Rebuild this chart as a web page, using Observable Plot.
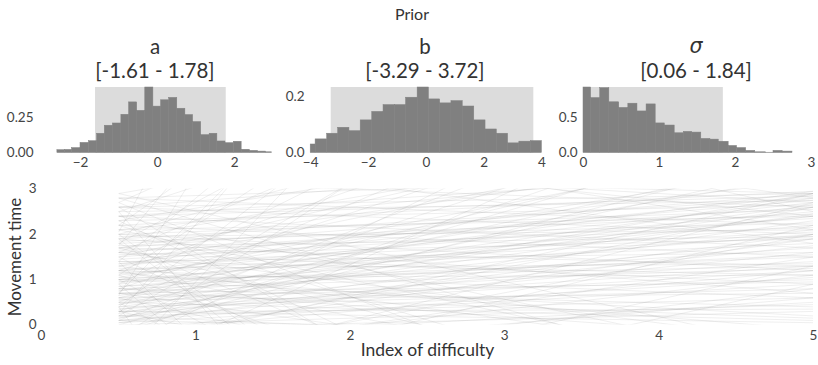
<!DOCTYPE html>
<html>
<head>
<meta charset="utf-8">
<script src="https://cdn.jsdelivr.net/npm/d3@7"></script>
<script src="https://cdn.jsdelivr.net/npm/@observablehq/plot@0.6"></script>
<style>
  body { margin: 0; background: #fff; }
  #root { position: relative; width: 818px; height: 365px; overflow: hidden; font-family: Lato, "Open Sans", sans-serif; color: #333; }
  .suptitle { position: absolute; text-align: center; font-size: 16px; line-height: 19px; }
  .ptitle { position: absolute; text-align: center; font-size: 20.5px; line-height: 24px; white-space: nowrap; }
  .sig { font-style: italic; font-family: "DejaVu Sans", sans-serif; }
</style>
</head>
<body>
<div id="root"></div>
<script>
// ---------------- data ----------------
const suptitle = "Prior";
const panelNames = ["a", "b", "σ"];
const hdiLabels = ["[-1.61 - 1.78]", "[-3.29 - 3.72]", "[0.06 - 1.84]"];

// parameter a : histogram (density)
const aEdges = [-2.60, -2.40, -2.22, -2.00, -1.78, -1.57, -1.37, -1.16, -0.94, -0.74, -0.53, -0.32, -0.11, 0.09,
                0.30, 0.51, 0.72, 0.92, 1.13, 1.35, 1.55, 1.76, 1.98, 2.18, 2.39, 2.60, 2.81, 2.97];
const aDensity = [0.020, 0.022, 0.035, 0.072, 0.084, 0.137, 0.194, 0.210, 0.272, 0.360, 0.300, 0.466, 0.330,
                  0.375, 0.392, 0.315, 0.270, 0.220, 0.127, 0.137, 0.082, 0.070, 0.080, 0.023, 0.015, 0.010, 0.005];
const aHdi = [-1.61, 1.78];
const aDomain = [-2.61, 2.98];
const aYMax = 0.466;
const aXTicks = [-2, 0, 2];
const aYTicks = [0, 0.25];

// parameter b
const bEdges = [-4.00, -3.83, -3.43, -3.05, -2.66, -2.27, -1.87, -1.48, -1.09, -0.70, -0.30, 0.09, 0.48, 0.87,
                1.26, 1.66, 2.05, 2.44, 2.83, 3.22, 3.62, 4.00];
const bDensity = [0.030, 0.048, 0.068, 0.089, 0.077, 0.115, 0.145, 0.169, 0.169, 0.195, 0.231, 0.189, 0.175,
                  0.183, 0.164, 0.115, 0.083, 0.068, 0.034, 0.040, 0.042];
const bHdi = [-3.29, 3.72];
const bDomain = [-4, 4];
const bYMax = 0.231;
const bXTicks = [-4, -2, 0, 2, 4];
const bYTicks = [0, 0.2];

// parameter sigma
const sEdges = [0.00, 0.10, 0.22, 0.34, 0.47, 0.59, 0.71, 0.83, 0.95, 1.07, 1.20, 1.32, 1.43, 1.55, 1.67, 1.78,
                1.91, 2.02, 2.14, 2.26, 2.40, 2.50, 2.62, 2.75];
const sDensity = [0.930, 0.780, 0.920, 0.720, 0.640, 0.700, 0.590, 0.690, 0.420, 0.390, 0.280, 0.300, 0.290,
                  0.200, 0.190, 0.160, 0.100, 0.070, 0.030, 0.010, 0.004, 0.030, 0.020];
const sHdi = [0.06, 1.84];
const sDomain = [0, 3];
const sYMax = 0.93;
const sXTicks = [0, 1, 2, 3];
const sYTicks = [0, 0.5];

// prior predictive lines: movement time at ID = 0.5 and at ID = 5
const idStart = 0.5, idEnd = 5;
const mtAtStart = [
  0.05, 0.1, 0.15, 0.2, 0.25, 0.3, 0.35, 0.4, 0.45, 0.5, 0.55, 0.6, 0.65, 0.7, 0.75, 0.8, 0.85, 0.9, 0.95, 1.0,
  1.05, 1.1, 1.15, 1.2, 1.25, 1.3, 1.35, 1.4, 1.45, 1.5, 1.55, 1.6, 1.65, 1.7, 1.75, 1.8, 1.85, 1.9, 1.95, 2.0,
  2.1, 2.2, 2.3, 2.4, 2.5, 2.6, 0.0, 0.1, 0.2, 0.3, 0.4, 0.55, 0.7, 0.85, 1.0, 1.2, 0.05, 0.6, 0.35, 0.95,
  -0.3, -0.6, -0.2, -1.0, -0.4, -0.8, -0.1, -1.5, -0.5, -2.0, -0.7, -1.2, -0.15, -0.9, -2.5,
  0.0, 0.1, 0.2, 0.3, 0.4, 0.5, 0.6, 0.7, 0.8, 0.9, 1.0, 1.1, 1.2, 1.3, 1.4, 1.5, 1.6, 1.7, 1.8, 1.9,
  2.0, 2.1, 2.2, 2.3, 2.4, 2.5, 2.6, 2.7, 2.8, 2.9, -0.2, -0.5, -0.3, -1.0, -0.1, 0.15, 0.45, 0.75, 1.05, 1.35,
  -0.8, 0.25, 1.75, 0.65, 2.05,
  0.3, 0.5, 0.7, 0.9, 1.1, 1.3, 1.5, 1.7, 1.9, 2.1, 2.3, 2.5, 2.7, 2.9, 0.2, 0.4, 0.6, 0.8, 1.0, 1.2,
  1.4, 1.6, 1.8, 2.0, 2.2, 2.4, 2.6, 2.8, 0.1, 1.15,
  0.5, 0.8, 1.2, 1.6, 2.0, 2.4, 2.8, 0.3, 1.0, 1.4, 1.9, 2.2, 2.6, 0.7, 1.7,
  3.3, 3.6, 4.0, 5.0, 3.8, 4.5, 6.0, 3.2
];
const mtAtEnd = [
  0.9, 1.6, 2.3, 0.6, 2.9, 1.2, 1.9, 0.8, 2.6, 1.4, 2.1, 1.0, 2.8, 1.7, 2.4, 1.25, 2.0, 2.95, 1.5, 2.2,
  1.1, 2.7, 1.8, 2.5, 1.35, 2.85, 2.05, 1.6, 2.35, 2.75, 1.9, 2.6, 2.15, 2.9, 1.95, 2.45, 2.25, 2.8, 2.1, 2.55,
  2.4, 2.95, 2.65, 2.85, 2.75, 2.9, 0.45, 1.05, 1.75, 0.35, 2.45, 0.7, 0.95, 1.55, 1.3, 1.95, 2.0, 2.65, 1.3, 2.4,
  0.5, 1.1, 1.9, 0.8, 2.6, 1.5, 0.3, 2.2, 2.9, 1.3, 0.6, 2.7, 1.2, 2.0, 0.9,
  4.5, 6, 9, 5.2, 12, 7, 4.2, 16, 5.8, 8.5, 4.0, 11, 6.5, 4.4, 14, 5.0, 8, 3.9, 10, 4.6,
  6.2, 3.6, 13, 4.8, 3.4, 7.5, 3.8, 9.5, 3.3, 5.5, 5.0, 7.0, 10, 6.0, 3.8, 3.5, 3.7, 3.3, 3.5, 3.2,
  15, 18, 20, 25, 30,
  -3, -8, -1.5, -12, -4, -0.8, -6, -2.2, -10, -1.2, -5, -15, -3.5, -0.6, -0.5, -20, -2.8, -0.3, -7, -1.8,
  -14, -0.4, -4.5, -9, -2.5, -0.9, -6.5, -1.6, -0.2, -0.1,
  0.1, 0.4, 0.6, 0.9, 1.2, 1.7, 2.2, 0.05, 0.2, 1.1, 0.7, 1.5, 2.0, 0.15, 1.3,
  2.9, 2.7, 2.4, 2.8, 1.8, 2.1, 2.5, 2.6
];
const mtXTicks = [0, 1, 2, 3, 4, 5];
const mtYTicks = [0, 1, 2, 3];
const mtXDomain = [0, 5];
const mtYDomain = [0, 3];
const xLabel = "Index of difficulty";
const yLabel = "Movement time";

// ---------------- drawing ----------------
const FONT = "Lato, 'Open Sans', sans-serif";
const root = document.getElementById("root");

function place(el, left, top) {
  el.style.position = "absolute";
  el.style.left = left + "px";
  el.style.top = top + "px";
  root.appendChild(el);
}

const st = document.createElement("div");
st.className = "suptitle";
st.style.width = "200px";
st.textContent = suptitle;
place(st, 412 - 100, 4);

const titleCenters = [155, 425, 696];
panelNames.forEach((name, i) => {
  const d = document.createElement("div");
  d.className = "ptitle";
  d.style.width = "240px";
  const l1 = document.createElement("div");
  l1.textContent = name;
  if (name === "σ") l1.className = "sig";
  const l2 = document.createElement("div");
  l2.textContent = hdiLabels[i];
  d.appendChild(l1); d.appendChild(l2);
  place(d, titleCenters[i] - 120, 34);
});

function histogram({edges, density, hdi, domain, ymax, xticks, yticks, yfmt, width, marginLeft, marginRight, yPad}) {
  const bins = density.map((h, i) => ({x1: edges[i], x2: edges[i + 1], h}));
  return Plot.plot({
    width, height: 95,
    marginLeft, marginRight, marginTop: 7, marginBottom: 22.5,
    style: {fontFamily: FONT, fontSize: "13.5px", color: "#444", background: "transparent"},
    x: {domain, ticks: xticks, tickFormat: d3.format("d"), tickSize: 0, tickPadding: 4.6, label: null},
    y: {domain: [0, ymax], ticks: yticks, tickFormat: yfmt, tickSize: 0, tickPadding: yPad, label: null},
    marks: [
      Plot.rect([hdi], {x1: d => d[0], x2: d => d[1], y1: 0, y2: ymax, fill: "#dcdcdc"}),
      Plot.rect(bins, {x1: "x1", x2: "x2", y1: 0, y2: "h", fill: "#808080", stroke: "#808080", strokeWidth: 0.5})
    ]
  });
}

place(histogram({edges: aEdges, density: aDensity, hdi: aHdi, domain: aDomain, ymax: aYMax,
  xticks: aXTicks, yticks: aYTicks, yfmt: d3.format(".2f"), width: 276, marginLeft: 56.5, marginRight: 4, yPad: 23.5}), 0, 80);
place(histogram({edges: bEdges, density: bDensity, hdi: bHdi, domain: bDomain, ymax: bYMax,
  xticks: bXTicks, yticks: bYTicks, yfmt: d3.format(".1f"), width: 270, marginLeft: 34.2, marginRight: 4.6, yPad: 6.2}), 276, 80);
place(histogram({edges: sEdges, density: sDensity, hdi: sHdi, domain: sDomain, ymax: sYMax,
  xticks: sXTicks, yticks: sYTicks, yfmt: d3.format(".1f"), width: 272, marginLeft: 37, marginRight: 7, yPad: 6}), 546, 80);

const lines = mtAtStart.map((y0, i) => ({x1: idStart, x2: idEnd, y1: y0, y2: mtAtEnd[i]}));

const main = Plot.plot({
  width: 818, height: 190,
  marginLeft: 41, marginRight: 5, marginTop: 13.5, marginBottom: 40.5,
  style: {fontFamily: FONT, fontSize: "13.5px", color: "#444", background: "transparent"},
  x: {domain: mtXDomain, ticks: mtXTicks, tickFormat: d3.format("d"), tickSize: 0, tickPadding: 5, label: null},
  y: {domain: mtYDomain, ticks: mtYTicks, tickFormat: d3.format("d"), tickSize: 0, tickPadding: 5, label: null},
  marks: [
    Plot.link(lines, {x1: "x1", x2: "x2", y1: "y1", y2: "y2", stroke: "#8a8a8a", strokeOpacity: 0.15, strokeWidth: 0.9, clip: true}),
    Plot.text([xLabel], {text: d => d, frameAnchor: "bottom", textAnchor: "middle", dy: 30.5, fontSize: 17.5, fill: "#333"}),
    Plot.text([yLabel], {text: d => d, frameAnchor: "left", textAnchor: "middle", dx: -25.5, rotate: -90, fontSize: 17, fill: "#333"})
  ]
});
place(main, 0, 175);
</script>
</body>
</html>
